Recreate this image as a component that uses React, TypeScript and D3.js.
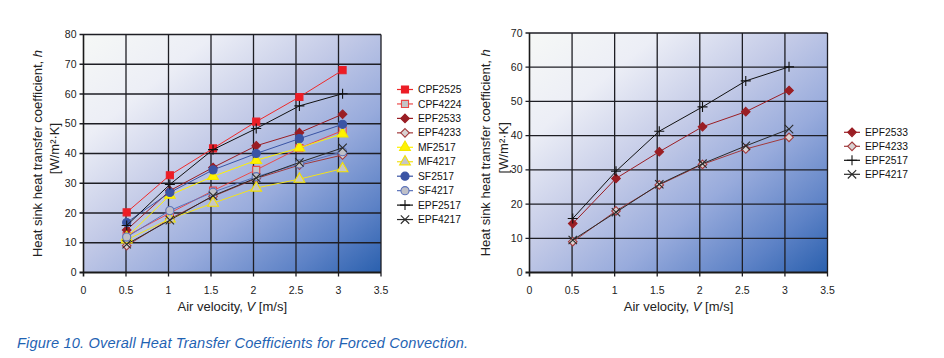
import React from "react";
import * as d3 from "d3";

const velocities = [0.508, 1.016, 1.524, 2.032, 2.54, 3.048];

const seriesNames = ["CPF2525", "CPF4224", "EPF2533", "EPF4233", "MF2517", "MF4217", "SF2517", "SF4217", "EPF2517", "EPF4217"];
const cpf2525 = [20.2, 32.7, 41.7, 50.7, 59.0, 68.0];
const cpf4224 = [12.3, 20.0, 27.5, 34.5, 41.8, 47.7];
const epf2533 = [14.3, 27.5, 35.3, 42.6, 47.0, 53.2];
const epf4233 = [9.0, 18.0, 25.6, 31.6, 36.1, 39.5];
const mf2517 = [11.8, 26.0, 32.3, 37.7, 41.9, 46.6];
const mf4217 = [11.0, 18.0, 23.3, 28.4, 31.4, 34.9];
const sf2517 = [16.8, 26.9, 34.5, 40.0, 45.0, 49.8];
const sf4217 = [11.9, 20.8, 27.0, 32.2, 36.5, 40.6];
const epf2517 = [15.8, 29.6, 41.3, 48.4, 56.0, 60.1];
const epf4217 = [9.5, 17.6, 25.8, 31.8, 37.0, 41.9];

const rightNames = ["EPF2533", "EPF4233", "EPF2517", "EPF4217"];

const xTicks = [0, 0.5, 1, 1.5, 2, 2.5, 3, 3.5];
const yTicksLeft = [0, 10, 20, 30, 40, 50, 60, 70, 80];
const yTicksRight = [0, 10, 20, 30, 40, 50, 60, 70];

const caption = "Figure 10. Overall Heat Transfer Coefficients for Forced Convection.";

const dataByName: Record<string, number[]> = {
  CPF2525: cpf2525, CPF4224: cpf4224, EPF2533: epf2533, EPF4233: epf4233,
  MF2517: mf2517, MF4217: mf4217, SF2517: sf2517, SF4217: sf4217,
  EPF2517: epf2517, EPF4217: epf4217,
};

type Style = { line: string; shape: string; fill: string; stroke: string };
const styles: Record<string, Style> = {
  CPF2525: { line: "#ee2a2a", shape: "square", fill: "#ee1c24", stroke: "#e8202a" },
  CPF4224: { line: "#ec4b4b", shape: "square", fill: "#c4c4c6", stroke: "#e84848" },
  EPF2533: { line: "#9a1e24", shape: "diamond", fill: "#9a1e24", stroke: "#9a1e24" },
  EPF4233: { line: "#a23a3c", shape: "diamond", fill: "#d9d2d2", stroke: "#a23a3c" },
  MF2517: { line: "#fff200", shape: "triangle", fill: "#fff200", stroke: "#f2e600" },
  MF4217: { line: "#f3e21a", shape: "triangle", fill: "#c6c6c6", stroke: "#f3e000" },
  SF2517: { line: "#3a54a4", shape: "circle", fill: "#3a54a4", stroke: "#3a54a4" },
  SF4217: { line: "#5b72ba", shape: "circle", fill: "#bfc0c8", stroke: "#5b72ba" },
  EPF2517: { line: "#111111", shape: "plus", fill: "none", stroke: "#111111" },
  EPF4217: { line: "#2a2a2a", shape: "cross", fill: "none", stroke: "#2a2a2a" },
};

const FONT = "'Liberation Sans', Arial, Helvetica, sans-serif";

function Marker({ shape, fill, stroke, x, y }: { shape: string; fill: string; stroke: string; x: number; y: number }) {
  if (shape === "plus") {
    const r = 5;
    return <path d={`M${x - r},${y}H${x + r}M${x},${y - r}V${y + r}`} stroke={stroke} strokeWidth={1.1} fill="none" />;
  }
  if (shape === "cross") {
    const r = 4.2;
    return <path d={`M${x - r},${y - r}L${x + r},${y + r}M${x - r},${y + r}L${x + r},${y - r}`} stroke={stroke} strokeWidth={1.1} fill="none" />;
  }
  if (shape === "diamond") {
    const r = 4.3;
    return <path d={`M${x},${y - r}L${x + r},${y}L${x},${y + r}L${x - r},${y}Z`} fill={fill} stroke={stroke} strokeWidth={1.1} />;
  }
  const types: Record<string, any> = {
    square: d3.symbolSquare,
    triangle: d3.symbolTriangle,
    circle: d3.symbolCircle,
  };
  const sizes: Record<string, number> = { square: 50, triangle: 50, circle: 52 };
  const d = d3.symbol().type(types[shape]).size(sizes[shape])() as string;
  return <path d={d} transform={`translate(${x},${y})`} fill={fill} stroke={stroke} strokeWidth={1.1} />;
}

type ChartProps = {
  id: string;
  x0: number; x1: number; yTop: number; yBot: number;
  yMax: number; yTicks: number[];
  names: string[];
  legendX: number; legendY: number; legendStep: number;
  titleX1: number; titleX2: number;
};

function Chart(p: ChartProps) {
  const x = d3.scaleLinear().domain([0, 3.5]).range([p.x0, p.x1]);
  const y = d3.scaleLinear().domain([0, p.yMax]).range([p.yBot, p.yTop]);
  const line = d3.line<[number, number]>().x((d) => x(d[0])).y((d) => y(d[1]));
  const cy = (p.yTop + p.yBot) / 2;
  const cx = (p.x0 + p.x1) / 2;
  return (
    <g>
      <defs>
        <linearGradient id={p.id} x1="0" y1="0" x2="1" y2="1">
          <stop offset="0" stopColor="#f6f8f6" />
          <stop offset="0.22" stopColor="#eceef6" />
          <stop offset="0.45" stopColor="#c3cae7" />
          <stop offset="0.65" stopColor="#98abdc" />
          <stop offset="0.85" stopColor="#5d82c6" />
          <stop offset="1" stopColor="#2a60ae" />
        </linearGradient>
      </defs>
      <rect x={p.x0} y={p.yTop} width={p.x1 - p.x0} height={p.yBot - p.yTop} fill={`url(#${p.id})`} />
      {xTicks.slice(1).map((t) => (
        <line key={"gx" + t} x1={x(t)} x2={x(t)} y1={p.yTop} y2={p.yBot + 4} stroke="#1e1e24" strokeWidth={1.3} />
      ))}
      {p.yTicks.slice(1).map((t) => (
        <line key={"gy" + t} x1={p.x0 - 4} x2={p.x1} y1={y(t)} y2={y(t)} stroke="#1e1e24" strokeWidth={1.3} />
      ))}
      <line x1={p.x0} x2={p.x0} y1={p.yTop} y2={p.yBot + 4} stroke="#1a1a1a" strokeWidth={1.6} />
      <line x1={p.x0 - 4} x2={p.x1} y1={p.yBot} y2={p.yBot} stroke="#1a1a1a" strokeWidth={1.8} />
      {p.yTicks.map((t) => (
        <text key={"ly" + t} x={p.x0 - 7} y={y(t) + 3.6} textAnchor="end" fontSize={10.5} fontFamily={FONT} fill="#222">{t}</text>
      ))}
      {xTicks.map((t) => (
        <text key={"lx" + t} x={x(t)} y={p.yBot + 21} textAnchor="middle" fontSize={10.5} fontFamily={FONT} fill="#222">{t}</text>
      ))}
      {p.names.map((n) => {
        const s = styles[n];
        const pts = velocities.map((v, i) => [v, dataByName[n][i]] as [number, number]);
        return (
          <g key={n}>
            <path d={line(pts) as string} fill="none" stroke={s.line} strokeWidth={1} />
            {pts.map((d, i) => (
              <Marker key={i} shape={s.shape} fill={s.fill} stroke={s.stroke} x={x(d[0])} y={y(d[1])} />
            ))}
          </g>
        );
      })}
      <text x={cx} y={p.yBot + 38} textAnchor="middle" fontSize={13} fontFamily={FONT} fill="#222">
        Air velocity, <tspan fontStyle="italic">V</tspan> [m/s]
      </text>
      <text transform={`translate(${p.titleX1},${cy}) rotate(-90)`} textAnchor="middle" fontSize={13} fontFamily={FONT} fill="#222" dy="0.35em">
        Heat sink heat transfer coefficient, <tspan fontStyle="italic">h</tspan>
      </text>
      <text transform={`translate(${p.titleX2},${cy - 5}) rotate(-90)`} textAnchor="middle" fontSize={13} fontFamily={FONT} fill="#222" dy="0.35em">
        [W/m²·K]
      </text>
      {p.names.map((n, i) => {
        const s = styles[n];
        const ly = p.legendY + i * p.legendStep;
        return (
          <g key={"lg" + n}>
            <line x1={p.legendX} x2={p.legendX + 16} y1={ly} y2={ly} stroke={s.line} strokeWidth={1.2} />
            <Marker shape={s.shape} fill={s.fill} stroke={s.stroke} x={p.legendX + 8} y={ly} />
            <text x={p.legendX + 21} y={ly + 3.6} fontSize={10.3} fontFamily={FONT} fill="#111">{n}</text>
          </g>
        );
      })}
    </g>
  );
}

export default function App() {
  return (
    <svg width={944} height={358} style={{ position: "absolute", left: 0, top: 0, background: "#fff" }}>
      <Chart id="gL" x0={83.5} x1={381} yTop={34.5} yBot={272.5} yMax={80} yTicks={yTicksLeft}
        names={seriesNames} legendX={397} legendY={89.5} legendStep={14.45} titleX1={37.5} titleX2={54} />
      <Chart id="gR" x0={529.5} x1={827.5} yTop={33} yBot={272.5} yMax={70} yTicks={yTicksRight}
        names={rightNames} legendX={844} legendY={132.3} legendStep={14} titleX1={485.3} titleX2={503} />
      <text x={17} y={347.5} fontSize={14.6} fontStyle="italic" fontFamily={FONT} fill="#1f63b3"
        textLength={451} lengthAdjust="spacing">{caption}</text>
    </svg>
  );
}
